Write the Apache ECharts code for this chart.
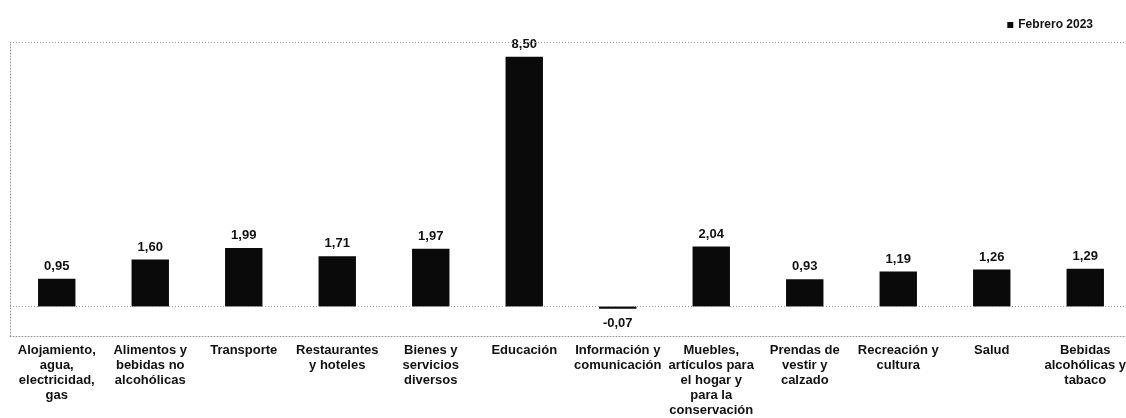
<!DOCTYPE html>
<html><head><meta charset="utf-8">
<script src="https://cdn.jsdelivr.net/npm/echarts@6/dist/echarts.min.js"></script>
<style>html,body{margin:0;padding:0;background:#fff;overflow:hidden}#c{width:1132px;height:418px}</style>
</head><body><div id="c"></div>
<script>
const categories = [
  "Alojamiento,\nagua,\nelectricidad,\ngas",
  "Alimentos y\nbebidas no\nalcohólicas",
  "Transporte",
  "Restaurantes\ny hoteles",
  "Bienes y\nservicios\ndiversos",
  "Educación",
  "Información y\ncomunicación",
  "Muebles,\nartículos para\nel hogar y\npara la\nconservación",
  "Prendas de\nvestir y\ncalzado",
  "Recreación y\ncultura",
  "Salud",
  "Bebidas\nalcohólicas y\ntabaco"
];
const seriesName = "Febrero 2023";
const values = [0.95, 1.60, 1.99, 1.71, 1.97, 8.50, -0.07, 2.04, 0.93, 1.19, 1.26, 1.29];
const yMin = -1, yMax = 9;

const chart = echarts.init(document.getElementById('c'));
const dotted = {color: '#9a9a9a', type: [1, 2], width: 1};
chart.setOption({
  backgroundColor: '#fff',
  animation: false,
  textStyle: {fontFamily: 'Liberation Sans, Arial, sans-serif'},
  legend: {
    right: 34, top: 14, itemWidth: 6, itemHeight: 6, icon: 'rect', itemGap: 4,
    textStyle: {fontSize: 12, fontWeight: 'bold', color: '#111'},
    data: [seriesName]
  },
  grid: {left: 10, right: 0, top: 42, bottom: 82, containLabel: false},
  xAxis: {
    type: 'category', data: categories,
    axisLine: {onZero: false, lineStyle: dotted},
    axisTick: {show: false},
    axisLabel: {interval: 0, fontSize: 13, fontWeight: 'bold', color: '#111', lineHeight: 15, margin: 7}
  },
  yAxis: {
    type: 'value', min: yMin, max: yMax, interval: 1,
    axisLine: {show: true, lineStyle: dotted},
    axisTick: {show: false}, axisLabel: {show: false}, splitLine: {show: false}
  },
  series: [{
    name: seriesName, type: 'bar', barWidth: '40%',
    data: values.map(v => v < 0 ? {value: v, label: {position: 'bottom', distance: 8}} : v),
    itemStyle: {color: '#0a0a0a'},
    label: {
      show: true, position: 'top', distance: 6, fontSize: 13, fontWeight: 'bold', color: '#111',
      formatter: p => p.value.toFixed(2).replace('.', ',')
    },
    markLine: {
      silent: true, symbol: 'none', label: {show: false},
      lineStyle: dotted,
      data: [{yAxis: 0}, {yAxis: yMax}]
    }
  }]
});
</script></body></html>
